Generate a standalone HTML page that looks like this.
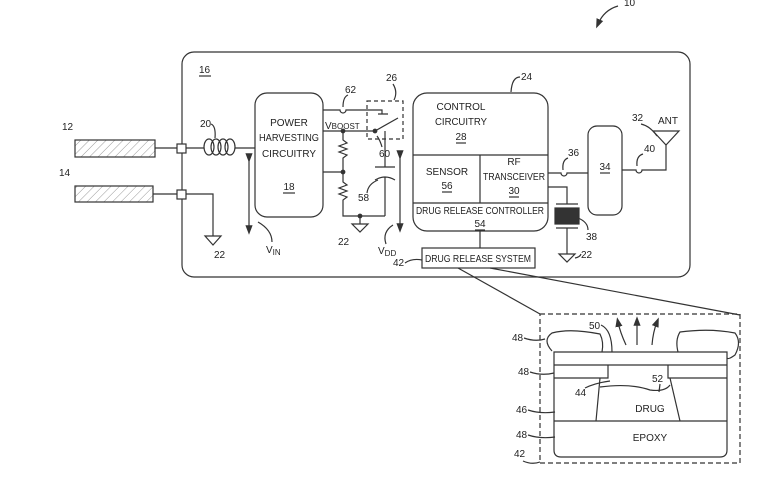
<!DOCTYPE html>
<html><head><style>
html,body{margin:0;padding:0;background:#fff;}
svg{display:block;}
text{font-family:"Liberation Sans",sans-serif;font-size:10px;fill:#222;}
</style></head><body>
<svg width="771" height="496" viewBox="0 0 771 496" xmlns="http://www.w3.org/2000/svg" fill="none" stroke="#333" stroke-width="1.2">
<defs>
<pattern id="hatch" width="6" height="6" patternUnits="userSpaceOnUse" patternTransform="rotate(45)"><line x1="0" y1="0" x2="0" y2="6" stroke="#999" stroke-width="1"/></pattern>
<pattern id="dark" width="3" height="3" patternUnits="userSpaceOnUse"><rect width="3" height="3" fill="#333"/><rect width="1" height="1" fill="#888"/></pattern>
<marker id="ah" markerWidth="8" markerHeight="8" refX="4" refY="4" orient="auto"><path d="M0,1 L8,4 L0,7Z" fill="#333" stroke="none"/></marker>
</defs>
<text x="624" y="6" stroke="none">10</text>
<path d="M618,6 Q604,10 598,24" marker-end="url(#ah)"/>
<rect x="182" y="52" width="508" height="225" rx="12"/>
<text x="199" y="73" stroke="none">16</text><line x1="199" y1="76" x2="211" y2="76"/>
<rect x="75" y="140" width="80" height="17" fill="url(#hatch)"/>
<rect x="75" y="186" width="78" height="16" fill="url(#hatch)"/>
<text x="62" y="130" stroke="none">12</text><text x="59" y="176" stroke="none">14</text>
<line x1="155" y1="148" x2="177" y2="148"/><line x1="153" y1="194" x2="177" y2="194"/>
<rect x="177" y="144" width="9" height="9" fill="#fff"/><rect x="177" y="190" width="9" height="9" fill="#fff"/>
<line x1="186" y1="148" x2="204" y2="148"/>
<ellipse cx="209" cy="147" rx="5" ry="8"/>
<ellipse cx="216" cy="147" rx="5" ry="8"/>
<ellipse cx="223" cy="147" rx="5" ry="8"/>
<ellipse cx="230" cy="147" rx="5" ry="8"/>
<line x1="235" y1="148" x2="255" y2="148"/>
<text x="200" y="127" stroke="none">20</text><path d="M211,124 Q216,126 215,138"/>
<path d="M186,194 H213 V236"/><path d="M205,236 H221 L213,245Z"/>
<text x="214" y="258" stroke="none">22</text>
<rect x="255" y="93" width="68" height="124" rx="12"/>
<text x="289" y="126" stroke="none" text-anchor="middle">POWER</text>
<text x="289" y="141" stroke="none" text-anchor="middle" textLength="60" lengthAdjust="spacingAndGlyphs">HARVESTING</text>
<text x="289" y="157" stroke="none" text-anchor="middle" textLength="54" lengthAdjust="spacingAndGlyphs">CIRCUITRY</text>
<text x="289" y="190" stroke="none" text-anchor="middle">18</text><line x1="283" y1="193" x2="295" y2="193"/>
<line x1="249" y1="158" x2="249" y2="230" marker-start="url(#ah)" marker-end="url(#ah)"/>
<path d="M258,222 Q272,230 272,242"/>
<text x="266" y="253" stroke="none">V<tspan font-size="8" dy="2">IN</tspan></text>
<path d="M323,110 H340 a3,3 0 0 0 6,0 H370"/>
<text x="345" y="93" stroke="none">62</text><path d="M343,107 Q343,97 348,95"/>
<text x="325" y="129" stroke="none" font-size="10">V<tspan font-size="8">BOOST</tspan></text>
<line x1="323" y1="131" x2="375" y2="131"/>
<circle cx="343" cy="131" r="1.8" fill="#333"/><circle cx="375" cy="131" r="1.8" fill="#333"/>
<path d="M343,131 V140 l4,3 l-8,3 l8,3 l-8,3 l8,3 l-4,3 V172"/>
<line x1="323" y1="172" x2="343" y2="172"/><circle cx="343" cy="172" r="1.8" fill="#333"/>
<path d="M343,172 V182 l4,3 l-8,3 l8,3 l-8,3 l8,3 l-4,3 V216 H385"/>
<circle cx="360" cy="216" r="1.8" fill="#333"/>
<path d="M360,216 V224"/><path d="M352,224 H368 L360,232Z"/>
<text x="338" y="245" stroke="none">22</text>
<rect x="367" y="101" width="36" height="38" stroke-dasharray="4,3"/>
<text x="386" y="81" stroke="none">26</text><path d="M393,84 Q398,92 394,100"/>
<path d="M375,131 L398,118"/><path d="M370,110 H382 V114 M378,114 H388"/>
<text x="379" y="157" stroke="none">60</text><path d="M382,147 Q380,140 377,136"/>
<path d="M385,131 V167 M375,167 H395 M375,180 Q385,174 395,180 M385,177 V216"/>
<text x="358" y="201" stroke="none">58</text><path d="M367,193 Q368,184 378,180"/>
<line x1="400" y1="155" x2="400" y2="228" marker-start="url(#ah)" marker-end="url(#ah)"/>
<path d="M393,225 Q382,232 386,244"/>
<text x="378" y="254" stroke="none">V<tspan font-size="8" dy="2">DD</tspan></text>
<rect x="413" y="93" width="135" height="138" rx="14"/>
<line x1="413" y1="155" x2="548" y2="155"/><line x1="480" y1="155" x2="480" y2="203"/>
<line x1="413" y1="203" x2="548" y2="203"/>
<text x="461" y="110" stroke="none" text-anchor="middle">CONTROL</text>
<text x="461" y="125" stroke="none" text-anchor="middle" textLength="52" lengthAdjust="spacingAndGlyphs">CIRCUITRY</text>
<text x="461" y="140" stroke="none" text-anchor="middle">28</text><line x1="456" y1="143" x2="466" y2="143"/>
<text x="447" y="175" stroke="none" text-anchor="middle">SENSOR</text>
<text x="447" y="189" stroke="none" text-anchor="middle">56</text><line x1="442" y1="192" x2="452" y2="192"/>
<text x="514" y="165" stroke="none" text-anchor="middle">RF</text>
<text x="514" y="180" stroke="none" text-anchor="middle" textLength="62" lengthAdjust="spacingAndGlyphs">TRANSCEIVER</text>
<text x="514" y="194" stroke="none" text-anchor="middle">30</text><line x1="509" y1="197" x2="519" y2="197"/>
<text x="480" y="214" stroke="none" text-anchor="middle" textLength="128" lengthAdjust="spacingAndGlyphs">DRUG RELEASE CONTROLLER</text>
<text x="480" y="227" stroke="none" text-anchor="middle">54</text><line x1="475" y1="230" x2="485" y2="230"/>
<text x="521" y="80" stroke="none">24</text><path d="M520,77 Q512,77 511,92"/>
<line x1="480" y1="231" x2="480" y2="248"/>
<rect x="422" y="248" width="113" height="20"/>
<text x="478" y="262" stroke="none" text-anchor="middle" textLength="106" lengthAdjust="spacingAndGlyphs">DRUG RELEASE SYSTEM</text>
<text x="393" y="266" stroke="none">42</text><path d="M405,263 Q412,258 422,260"/>
<path d="M548,173 H561 a3,3 0 0 0 6,0 H588"/>
<text x="568" y="156" stroke="none">36</text><path d="M563,170 Q562,160 568,158"/>
<path d="M548,187 H567 V204"/>
<line x1="556" y1="204" x2="578" y2="204"/>
<rect x="555" y="208" width="24" height="16" fill="url(#dark)"/>
<line x1="556" y1="228" x2="578" y2="228"/>
<path d="M567,228 V254"/><path d="M559,254 H575 L567,262Z"/>
<text x="586" y="240" stroke="none">38</text><path d="M578,218 Q588,222 588,230"/>
<text x="581" y="258" stroke="none">22</text><path d="M575,258 Q580,257 581,254"/>
<rect x="588" y="126" width="34" height="89" rx="9"/>
<text x="605" y="170" stroke="none" text-anchor="middle">34</text><line x1="600" y1="173" x2="610" y2="173"/>
<path d="M622,170 H636 a3,3 0 0 0 6,0 H666 V144"/>
<path d="M653,131 H679 L666,145Z"/>
<text x="658" y="124" stroke="none">ANT</text>
<text x="632" y="121" stroke="none">32</text><path d="M641,124 Q650,126 657,136"/>
<text x="644" y="152" stroke="none">40</text><path d="M637,166 Q636,156 643,154"/>
<line x1="458" y1="268" x2="540" y2="314"/><line x1="490" y1="268" x2="740" y2="315"/>
<rect x="540" y="314" width="200" height="149" stroke-dasharray="5,3"/>
<path d="M554,352 H727 V450 Q727,457 720,457 H561 Q554,457 554,450 Z"/>
<line x1="554" y1="365" x2="727" y2="365"/>
<path d="M554,378 H608 V365 M668,365 V378 H727"/>
<line x1="554" y1="421" x2="727" y2="421"/>
<path d="M600,378 L596,421 M670,378 L680,421"/>
<path d="M600,387 Q630,383 650,390 Q665,392 670,385"/>
<path d="M552,351 Q542,340 552,333 Q570,328 600,334 Q604,342 602,352"/>
<path d="M678,352 Q675,340 680,332 Q710,328 735,333 Q742,342 735,355 Q728,360 727,358"/>
<path d="M626,345 Q620,332 618,322" marker-end="url(#ah)"/>
<path d="M637,345 V321" marker-end="url(#ah)"/>
<path d="M652,345 Q653,332 657,322" marker-end="url(#ah)"/>
<path d="M601,325 Q612,330 612,352"/>
<text x="589" y="329" stroke="none">50</text>
<text x="512" y="341" stroke="none">48</text><path d="M524,338 Q535,342 545,339"/>
<text x="518" y="375" stroke="none">48</text><path d="M530,372 Q542,376 554,373"/>
<text x="575" y="396" stroke="none">44</text><path d="M585,388 Q595,383 610,381"/>
<text x="652" y="382" stroke="none">52</text><path d="M660,384 L659,392"/>
<text x="516" y="413" stroke="none">46</text><path d="M528,410 Q540,414 555,412"/>
<text x="516" y="438" stroke="none">48</text><path d="M528,435 Q540,439 555,437"/>
<text x="514" y="457" stroke="none">42</text><path d="M523,461 Q532,465 540,462"/>
<text x="650" y="412" stroke="none" text-anchor="middle">DRUG</text>
<text x="650" y="441" stroke="none" text-anchor="middle">EPOXY</text>
</svg>
</body></html>
